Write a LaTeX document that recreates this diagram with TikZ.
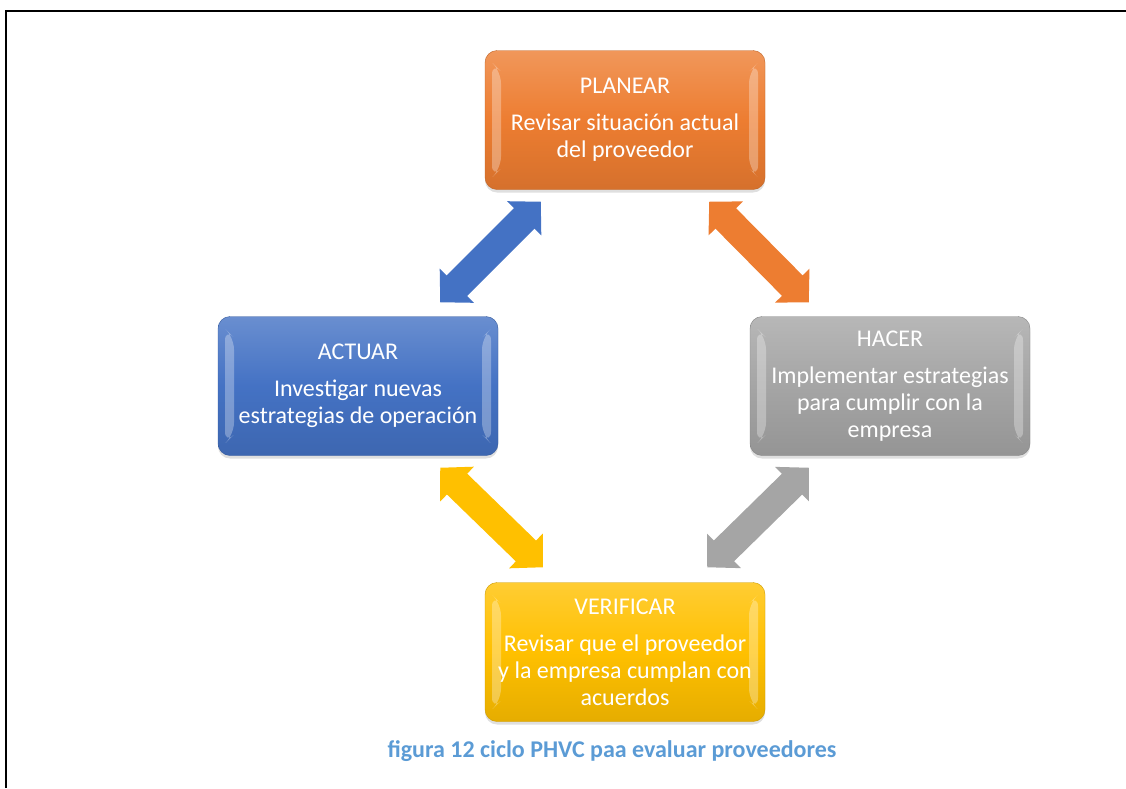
\documentclass[tikz,border=0pt]{standalone}
\usepackage{fontspec}
\setmainfont{Carlito}
\usetikzlibrary{arrows.meta, calc, shadows}
\definecolor{planorange}{HTML}{ED7D31}
\definecolor{hacergray}{HTML}{A5A5A5}
\definecolor{verifyellow}{HTML}{FFC000}
\definecolor{actblue}{HTML}{4472C4}
\definecolor{captionblue}{HTML}{5B9BD5}

\begin{document}
\begin{tikzpicture}[
  x=1pt, y=-1pt,
  every node/.style={font=\fontsize{24}{27}\selectfont},
  phase/.style={rounded corners=12pt, minimum width=280pt, minimum height=139pt,
                inner sep=0pt, align=center, text=white, draw=#1!80!black,
                top color=#1!80!white, bottom color=#1!90!black, middle color=#1,
                drop shadow={opacity=0.25, shadow xshift=0pt, shadow yshift=-3pt},
                path picture={
                  \fill[white, opacity=0.3]
                    ($(path picture bounding box.north west)+(7,12)$) -- ++(9,9) -- ++(0,97) -- ++(-9,9) -- cycle
                    ($(path picture bounding box.north east)+(-7,12)$) -- ++(-9,9) -- ++(0,97) -- ++(9,9) -- cycle;
                }},
  dblarrow/.style={line width=29pt, color=#1,
                   {Triangle[width=47pt,length=23.5pt]}-{Triangle[width=47pt,length=23.5pt]}},
]
  \useasboundingbox (0,0) rectangle (1126,788);

  % Frame
  \draw[line width=2pt] (6,788) -- (6,11) -- (1126,11);

  % Phases
  \node[phase=planorange] (plan) at (625,120)
    {PLANEAR\\[10pt] Revisar situación actual\\ del proveedor};
  \node[phase=hacergray] (hacer) at (890,386)
    {HACER\\[10pt] Implementar estrategias\\ para cumplir con la\\ empresa};
  \node[phase=verifyellow] (verif) at (625,652)
    {VERIFICAR\\[10pt] Revisar que el proveedor\\ y la empresa cumplan con\\ acuerdos};
  \node[phase=actblue] (actuar) at (358,386)
    {ACTUAR\\[10pt] Investigar nuevas\\ estrategias de operación};

  % Arrow ends
  \coordinate (pa) at ($(plan.south west)+(56,12)$);
  \coordinate (ap) at ($(actuar.north east)+(-58,-14)$);
  \coordinate (ph) at ($(plan.south east)+(-56,12)$);
  \coordinate (hp) at ($(hacer.north west)+(59,-14)$);
  \coordinate (hv) at ($(hacer.south west)+(59,12)$);
  \coordinate (vh) at ($(verif.north east)+(-58,-15)$);
  \coordinate (va) at ($(verif.north west)+(58,-15)$);
  \coordinate (av) at ($(actuar.south east)+(-58,12)$);

  % Arrows
  \draw[dblarrow=actblue] (ap) -- (pa);
  \draw[dblarrow=planorange] (ph) -- (hp);
  \draw[dblarrow=hacergray] (hv) -- (vh);
  \draw[dblarrow=verifyellow] (av) -- (va);

  % Caption
  \node[font=\fontsize{24}{28}\selectfont\bfseries, text=captionblue] (caption) at (612,751)
    {figura 12 ciclo PHVC paa evaluar proveedores};
\end{tikzpicture}
\end{document}
